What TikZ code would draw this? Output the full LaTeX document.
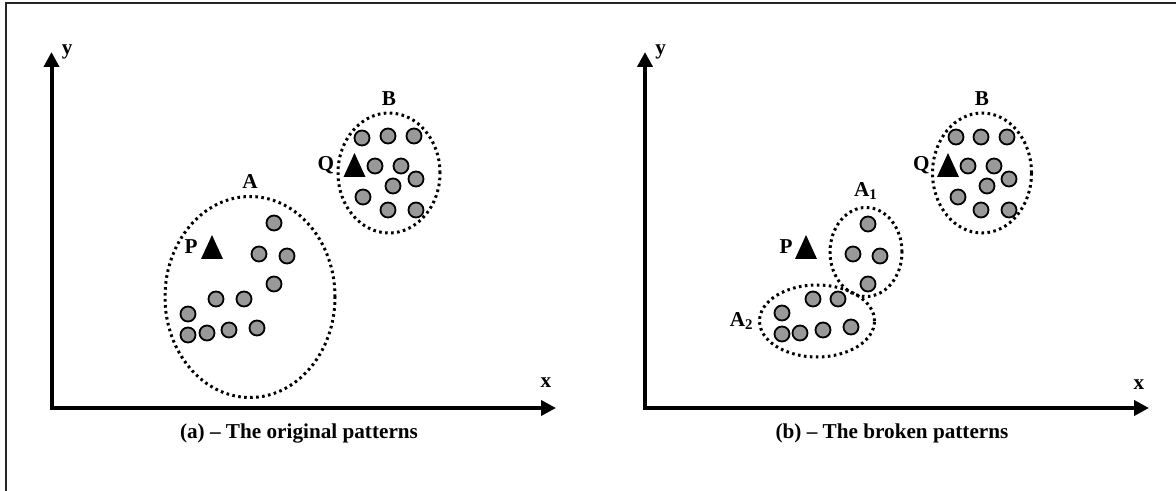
\documentclass[tikz,border=0pt]{standalone}
\usepackage{fontspec}
\setmainfont{Liberation Serif}
\usepackage{tikz}
\usetikzlibrary{shapes.geometric, arrows.meta, positioning}

\tikzset{
  lbl/.style={font=\bfseries\fontsize{10.6}{12}\selectfont, inner sep=0pt},
  axis/.style={line width=2pt, line join=miter, {Triangle[length=7.5pt,width=7.5pt]}-{Triangle[length=7.5pt,width=7.5pt]}},
  dot/.style={circle, draw, line width=0.9pt, fill=gray!80, minimum size=7.5pt, inner sep=0pt},
  cluster/.style={ellipse, draw, line width=1.5pt, dash pattern=on 1.3pt off 1.7pt, inner sep=0pt},
  frame/.style={draw=black!85, line width=1pt}
}

\begin{document}
\begin{tikzpicture}[x=0.5pt, y=-0.5pt, node distance=3pt]
  \useasboundingbox (0,0) rectangle (1176,491);
  \draw[frame] (6,3) rectangle (1190,510);

  % (a) original patterns
  \coordinate (oa) at (51.5,408);
  \coordinate (ya) at (51.5,52);
  \coordinate (xa) at (556,408);
  \draw[axis] (ya) -- (oa) -- (xa);
  \node[lbl, right=5pt of ya] (yla) {y};
  \node[lbl] (xla) at ([shift={(-10,-25)}]xa) {x};

  \node[cluster, minimum width=85pt, minimum height=100.5pt] (A) at (250,297) {};
  \node[lbl, above=of A] (Alab) {A};
  \node[cluster, minimum width=51pt, minimum height=60pt] (B) at (389,173) {};
  \node[lbl, above=of B] (Blab) {B};

  \foreach \x/\y [count=\i] in {274/223, 259/254, 287/256, 274/284, 216/299, 244/299,
      188/314, 188/335, 207/333, 229/330, 257/328}
    \node[dot] (a\i) at (\x,\y) {};
  \foreach \x/\y [count=\i] in {362/138, 388/136, 414/136, 375/166, 401/166, 393/186,
      416/179, 363/197, 388/210, 416/210}
    \node[dot] (b\i) at (\x,\y) {};

  \coordinate (P) at (212,247);
  \fill[shift={(P)}] (-11,12) -- (0,-12) -- (11,12) -- cycle;
  \node[lbl, left=7pt of P] (Plab) {P};
  \coordinate (Q) at (354.5,165);
  \fill[shift={(Q)}] (-11,12) -- (0,-12) -- (11,12) -- cycle;
  \node[lbl, left=10pt of Q] (Qlab) {Q};

  \node[lbl] (capa) at (299,433) {(a) -- The original patterns};

  % (b) broken patterns
  \coordinate (ob) at (645,408);
  \coordinate (yb) at (645,52);
  \coordinate (xb) at (1149,408);
  \draw[axis] (yb) -- (ob) -- (xb);
  \node[lbl, right=5pt of yb] (ylb) {y};
  \node[lbl] (xlb) at ([shift={(-10,-23)}]xb) {x};

  \node[cluster, minimum width=36pt, minimum height=44.5pt] (A1) at (866,252) {};
  \node[lbl, above=of A1] (A1lab) {A\textsubscript{1}};
  \node[cluster, minimum width=57.5pt, minimum height=36pt] (A2) at (817,321) {};
  \node[lbl, left=2pt of A2] (A2lab) {A\textsubscript{2}};
  \node[cluster, minimum width=49.5pt, minimum height=60pt] (B2) at (982,173) {};
  \node[lbl, above=of B2] (B2lab) {B};

  \foreach \x/\y [count=\i] in {868/224, 853/254, 880/256, 868/284}
    \node[dot] (c\i) at (\x,\y) {};
  \foreach \x/\y [count=\i] in {813/299, 838/299, 782/313, 782/334, 800/333, 823/330, 851/327}
    \node[dot] (d\i) at (\x,\y) {};
  \foreach \x/\y [count=\i] in {956/137, 981/137, 1007/137, 968/166, 994/166, 987/186,
      1009/179, 958/197, 981/210, 1009/210}
    \node[dot] (e\i) at (\x,\y) {};

  \coordinate (P2) at (806,247);
  \fill[shift={(P2)}] (-11,12) -- (0,-12) -- (11,12) -- cycle;
  \node[lbl, left=6.5pt of P2] (P2lab) {P};
  \coordinate (Q2) at (948,165);
  \fill[shift={(Q2)}] (-11,12) -- (0,-12) -- (11,12) -- cycle;
  \node[lbl, left=9pt of Q2] (Q2lab) {Q};

  \node[lbl] (capb) at (892,433) {(b) -- The broken patterns};
\end{tikzpicture}
\end{document}
